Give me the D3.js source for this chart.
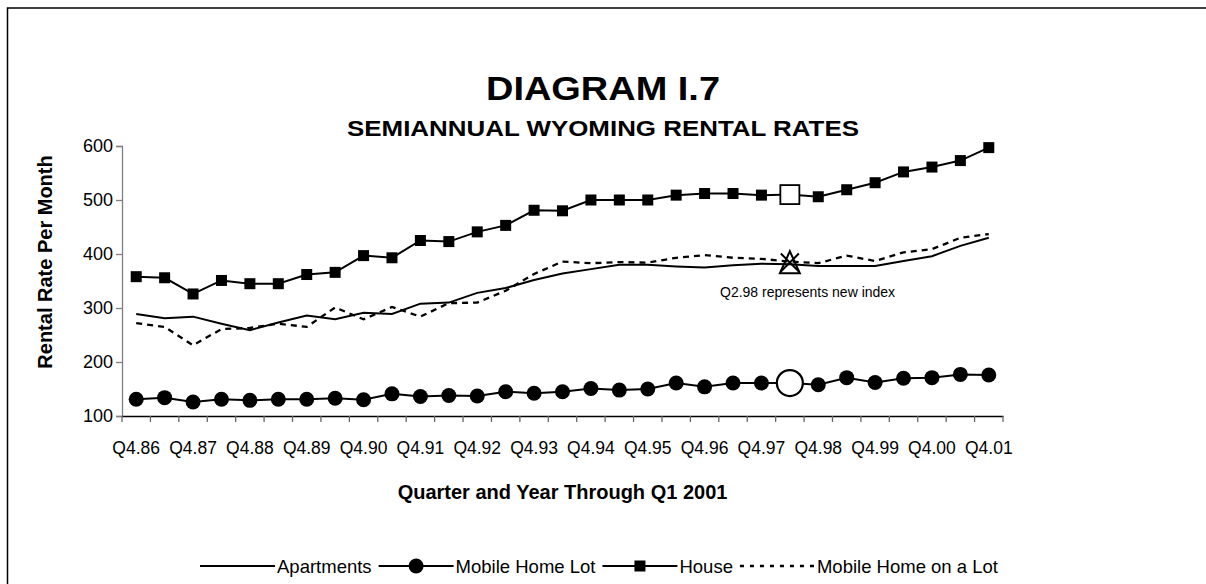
<!DOCTYPE html>
<html><head><meta charset="utf-8">
<script src="https://cdn.jsdelivr.net/npm/d3@7"></script>
<style>body{margin:0;background:#fff;} svg{display:block;font-family:"Liberation Sans",Arial,sans-serif;}</style>
</head><body><svg id="c" width="1206" height="584"></svg>
<script>
const categories = ["Q4.86","Q2.87","Q4.87","Q2.88","Q4.88","Q2.89","Q4.89","Q2.90","Q4.90","Q2.91","Q4.91","Q2.92","Q4.92","Q2.93","Q4.93","Q2.94","Q4.94","Q2.95","Q4.95","Q2.96","Q4.96","Q2.97","Q4.97","Q2.98","Q4.98","Q2.99","Q4.99","Q2.00","Q4.00","Q2.01","Q4.01"];
const apartments      = [289,281,284,271,259,273,286,279,291,289,308,310,328,337,352,364,372,380,380,377,375,379,382,381,378,378,378,387,396,415,430];
const mobileHomeLot   = [131,134,126,131,129,131,131,133,130,141,136,138,137,145,142,145,151,148,150,161,154,161,161,161,158,171,162,170,171,177,176];
const house           = [358,356,326,351,345,345,362,366,397,393,425,423,441,453,481,480,500,500,500,509,512,512,509,510,506,519,532,552,561,573,597];
const mobileHomeOnLot = [272,265,231,261,263,271,265,301,279,302,284,309,310,332,363,386,383,385,384,393,398,393,391,386,383,397,387,403,409,430,437];
const yTicks = [100,200,300,400,500,600];
const newIndexCategory = "Q2.98";
const seriesNames = ["Apartments","Mobile Home Lot","House","Mobile Home on a Lot"];
const titleText = "DIAGRAM I.7";
const subtitleText = "SEMIANNUAL WYOMING RENTAL RATES";
const xTitle = "Quarter and Year Through Q1 2001";
const yTitle = "Rental Rate Per Month";
const noteText = "Q2.98 represents new index";

const W = 1206, H = 584;
const svg = d3.select("#c");
svg.append("rect").attr("width", W).attr("height", H).attr("fill", "#fff");
svg.append("rect").attr("x", 7.5).attr("y", 8).attr("width", W + 20).attr("height", H + 20)
  .attr("fill", "none").attr("stroke", "#000").attr("stroke-width", 1.5);

const plot = {left: 122, right: 1003, top: 146, bottom: 416};
const x = d3.scaleBand().domain(categories).range([plot.left, plot.right]).padding(0);
const y = d3.scaleLinear().domain([100, 600]).range([plot.bottom, plot.top]);
const cx = c => x(c) + x.bandwidth() / 2;
const newIdx = categories.indexOf(newIndexCategory);

// titles
const tcx = 603;
svg.append("text").attr("x", tcx).attr("y", 100).attr("text-anchor", "middle")
  .attr("font-size", 33).attr("font-weight", "bold")
  .attr("textLength", 234).attr("lengthAdjust", "spacingAndGlyphs").text(titleText);
svg.append("text").attr("x", tcx).attr("y", 136).attr("text-anchor", "middle")
  .attr("font-size", 22.5).attr("font-weight", "bold")
  .attr("textLength", 512).attr("lengthAdjust", "spacingAndGlyphs").text(subtitleText);

// y axis
const gy = svg.append("g").attr("transform", `translate(${plot.left},0)`)
  .call(d3.axisLeft(y).tickValues(yTicks).tickSize(6).tickPadding(3));
gy.select(".domain").attr("stroke", "#808080").attr("stroke-width", 1.3);
gy.selectAll(".tick line").attr("stroke", "#808080").attr("stroke-width", 1.3);
gy.selectAll(".tick text").attr("font-size", 18).attr("fill", "#000")
  .attr("font-family", "Liberation Sans, Arial, sans-serif");

// x axis
const gx = svg.append("g").attr("transform", `translate(0,${plot.bottom})`)
  .call(d3.axisBottom(x).tickSize(0).tickPadding(26)
    .tickFormat(c => c.startsWith("Q4") ? c : ""));
gx.select(".domain").attr("stroke", "#000").attr("stroke-width", 1.3);
gx.selectAll(".tick text").attr("font-size", 17.5).attr("fill", "#000")
  .attr("font-family", "Liberation Sans, Arial, sans-serif");
const bounds = categories.map(c => x(c)).concat([x.range()[1]]);
svg.append("g").selectAll("line").data(bounds).join("line")
  .attr("x1", d => d).attr("x2", d => d).attr("y1", plot.bottom).attr("y2", plot.bottom + 6)
  .attr("stroke", "#666").attr("stroke-width", 1.3);

// axis titles
svg.append("text").attr("x", (plot.left + plot.right) / 2).attr("y", 499).attr("text-anchor", "middle")
  .attr("font-size", 20).attr("font-weight", "bold").text(xTitle);
svg.append("text").attr("transform", `translate(52,${262}) rotate(-90)`).attr("text-anchor", "middle")
  .attr("font-size", 20).attr("font-weight", "bold").text(yTitle);

// lines
const line = d3.line().x((d, i) => cx(categories[i])).y(d => y(d));
svg.append("path").datum(mobileHomeOnLot).attr("d", line).attr("fill", "none")
  .attr("stroke", "#000").attr("stroke-width", 2.3).attr("stroke-dasharray", "6,5");
svg.append("path").datum(apartments).attr("d", line).attr("fill", "none")
  .attr("stroke", "#000").attr("stroke-width", 2);
svg.append("path").datum(mobileHomeLot).attr("d", line).attr("fill", "none")
  .attr("stroke", "#000").attr("stroke-width", 2);
svg.append("path").datum(house).attr("d", line).attr("fill", "none")
  .attr("stroke", "#000").attr("stroke-width", 2);

// markers
const sq = 11;
svg.append("g").selectAll("rect").data(house.map((v, i) => ({v, i})).filter(d => d.i !== newIdx)).join("rect")
  .attr("x", d => cx(categories[d.i]) - sq / 2).attr("y", d => y(d.v) - sq / 2)
  .attr("width", sq).attr("height", sq).attr("fill", "#000");
svg.append("g").selectAll("circle").data(mobileHomeLot.map((v, i) => ({v, i})).filter(d => d.i !== newIdx)).join("circle")
  .attr("cx", d => cx(categories[d.i])).attr("cy", d => y(d.v)).attr("r", 7.5).attr("fill", "#000");

// new-index markers
const nx = cx(newIndexCategory);
svg.append("rect").attr("x", nx - 9.5).attr("y", y(house[newIdx]) - 9.5).attr("width", 19).attr("height", 19)
  .attr("fill", "#fff").attr("stroke", "#000").attr("stroke-width", 1.8);
svg.append("circle").attr("cx", nx).attr("cy", y(mobileHomeLot[newIdx])).attr("r", 13)
  .attr("fill", "#fff").attr("stroke", "#000").attr("stroke-width", 2.2);
const ta = y(apartments[newIdx]);
svg.append("path").attr("d", `M${nx},${ta - 13}L${nx - 10},${ta + 9}L${nx + 10},${ta + 9}Z`)
  .attr("fill", "none").attr("stroke", "#000").attr("stroke-width", 2);
const tb = y(mobileHomeOnLot[newIdx]);
svg.append("path").attr("d", `M${nx - 9},${tb - 8}L${nx + 9},${tb + 10}M${nx + 9},${tb - 8}L${nx - 9},${tb + 10}`)
  .attr("fill", "none").attr("stroke", "#000").attr("stroke-width", 2);

// annotation
svg.append("text").attr("x", 720).attr("y", 297).attr("font-size", 14).text(noteText);

// legend
const lg = svg.append("g");
let lx = 200; const ly = 566; const L = 75;
seriesNames.forEach((name, i) => {
  const l = lg.append("line").attr("x1", lx).attr("x2", lx + L).attr("y1", ly).attr("y2", ly)
    .attr("stroke", "#000").attr("stroke-width", i === 3 ? 2.3 : 2);
  if (i === 3) l.attr("stroke-dasharray", "4,6");
  if (i === 1) lg.append("circle").attr("cx", lx + L / 2).attr("cy", ly).attr("r", 7.5).attr("fill", "#000");
  if (i === 2) lg.append("rect").attr("x", lx + L / 2 - 5.5).attr("y", ly - 5.5).attr("width", 11).attr("height", 11).attr("fill", "#000");
  const t = lg.append("text").attr("x", lx + L + 2).attr("y", ly + 6.5).attr("font-size", 18.5).text(name);
  lx = lx + L + 2 + t.node().getComputedTextLength() + 7;
});
</script></body></html>
